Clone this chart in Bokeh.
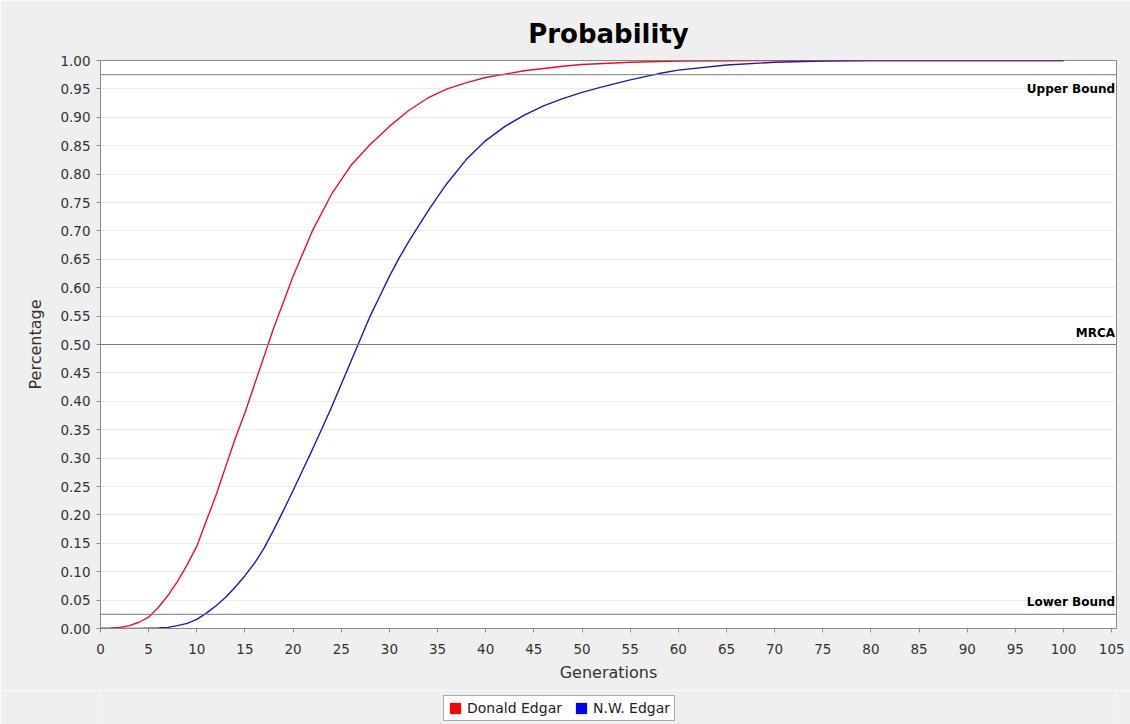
from bokeh.plotting import figure
from bokeh.layouts import column
from bokeh.models import (Span, Label, FixedTicker, PrintfTickFormatter, Legend, LegendItem,
                          ColumnDataSource, Range1d)
from bokeh.embed import file_html
from bokeh.resources import INLINE

# ---- data ----
donald_x = [0, 1, 2, 3, 4, 5, 6, 7, 8, 9, 10, 11, 12, 13, 14, 15, 16, 17, 18, 19, 20,
            22, 24, 26, 28, 30, 32, 34, 36, 38, 40, 42, 44, 46, 48, 50, 55, 60, 65, 70, 80, 90, 100]
donald_y = [0.0, 0.0005, 0.002, 0.005, 0.011, 0.02, 0.037, 0.058, 0.083, 0.112, 0.145, 0.19,
            0.235, 0.285, 0.335, 0.38, 0.43, 0.48, 0.53, 0.575, 0.62, 0.70, 0.765, 0.815,
            0.852, 0.884, 0.912, 0.934, 0.950, 0.961, 0.970, 0.976, 0.982, 0.986, 0.990,
            0.993, 0.997, 0.999, 0.9995, 1.0, 1.0, 1.0, 1.0]

nw_x = [0, 2, 4, 5, 6, 7, 8, 9, 10, 11, 12, 13, 14, 15, 16, 17, 18, 19, 20, 21, 22, 23, 24,
        25, 26, 27, 28, 29, 30, 31, 32, 33, 34, 35, 36, 38, 40, 42, 44, 46, 48, 50, 52, 55,
        58, 60, 65, 70, 75, 80, 90, 100]
nw_y = [0.0, 0.0, 0.0, 0.0005, 0.001, 0.002, 0.005, 0.009, 0.016, 0.027, 0.04, 0.055, 0.073,
        0.093, 0.115, 0.142, 0.174, 0.208, 0.243, 0.279, 0.315, 0.352, 0.39, 0.43, 0.47, 0.51,
        0.55, 0.585, 0.62, 0.652, 0.681, 0.708, 0.735, 0.76, 0.784, 0.826, 0.859, 0.884,
        0.904, 0.920, 0.933, 0.944, 0.953, 0.966, 0.977, 0.983, 0.992, 0.997, 0.999,
        1.0, 1.0, 1.0]

series_names = ["Donald Edgar", "N.W. Edgar"]
series_colors = ["#e8102c", "#1c1caa"]
legend_colors = ["#ff0000", "#0000ff"]

bounds = [0.975, 0.5, 0.025]
bound_labels = ["Upper Bound", "MRCA", "Lower Bound"]

x_ticks = list(range(0, 106, 5))
y_ticks = [round(i * 0.05, 2) for i in range(21)]

FONT = "DejaVu Sans"
BG = "#efefef"

p = figure(frame_width=1016, frame_height=568, output_backend="svg", toolbar_location=None,
           x_range=Range1d(0, 105.5), y_range=Range1d(0, 1.0),
           min_border_left=100, min_border_right=14, min_border_top=60, min_border_bottom=62)

p.background_fill_color = "white"
p.border_fill_color = BG
p.outline_line_color = "#8a8a8a"
p.outline_line_width = 1

p.title.text = "Probability"
p.title.align = "center"
p.title.text_font = FONT
p.title.text_font_size = "26px"
p.title.text_font_style = "bold"
p.title.text_color = "black"
p.title.standoff = 23

# grid
p.xgrid.grid_line_color = None
p.ygrid.grid_line_color = "#ececec"
p.ygrid.grid_line_width = 1

# axes
for ax in (p.xaxis[0], p.yaxis[0]):
    ax.axis_line_color = "#8a8a8a"
    ax.major_tick_line_color = "#8a8a8a"
    ax.major_tick_out = 4
    ax.major_tick_in = 0
    ax.minor_tick_line_color = None
    ax.major_label_text_font = FONT
    ax.major_label_text_font_size = "13.5px"
    ax.major_label_text_color = "#333333"
    ax.axis_label_text_font = FONT
    ax.axis_label_text_font_size = "16px"
    ax.axis_label_text_font_style = "normal"
    ax.axis_label_text_color = "#333333"

p.xaxis.ticker = FixedTicker(ticks=x_ticks)
p.yaxis.ticker = FixedTicker(ticks=y_ticks)
p.yaxis.formatter = PrintfTickFormatter(format="%.2f")
p.xaxis.axis_label = "Generations"
p.yaxis.axis_label = "Percentage"
p.xaxis.major_label_standoff = 11
p.yaxis.major_label_standoff = 6
p.xaxis.axis_label_standoff = 6
p.yaxis.axis_label_standoff = 12

# bound lines
for b, lab in zip(bounds, bound_labels):
    p.add_layout(Span(location=b, dimension="width", line_color="#7a7a7a", line_width=1))
    below = lab == "Upper Bound"
    p.add_layout(Label(x=105.35, y=b, text=lab, text_align="right",
                       text_baseline="top" if below else "bottom",
                       y_offset=-7 if below else 5,
                       text_font=FONT, text_font_size="12px", text_font_style="bold",
                       text_color="black"))

# series lines
p.line(donald_x, donald_y, line_color=series_colors[0], line_width=1.4)
p.line(nw_x, nw_y, line_color=series_colors[1], line_width=1.4)

# ---- legend strip below the chart ----
lf = figure(width=1130, height=34, output_backend="svg", toolbar_location=None,
            x_axis_location=None, y_axis_location=None,
            min_border_left=0, min_border_right=0, min_border_top=0, min_border_bottom=0)
lf.grid.grid_line_color = None
lf.outline_line_color = None
lf.background_fill_color = BG
lf.border_fill_color = BG

nan = float("nan")
items = []
for name, col in zip(series_names, legend_colors):
    src = ColumnDataSource(dict(left=[nan], right=[nan], top=[nan], bottom=[nan]))
    r = lf.quad(source=src, left="left", right="right", top="top",
                bottom="bottom", fill_color=col, line_color=None)
    items.append(LegendItem(label=name, renderers=[r]))

legend = Legend(items=items, orientation="horizontal", location=(343, 3),
                label_text_font=FONT, label_text_font_size="14px", label_text_color="#222222",
                glyph_width=14, glyph_height=14, label_standoff=5, spacing=12,
                padding=4, margin=0, border_line_color="#555555", border_line_width=1,
                background_fill_color="white", background_fill_alpha=1.0,
                label_height=14)
lf.add_layout(legend, "center")

open("out.html", "w").write(file_html(column(p, lf, spacing=0), INLINE))
